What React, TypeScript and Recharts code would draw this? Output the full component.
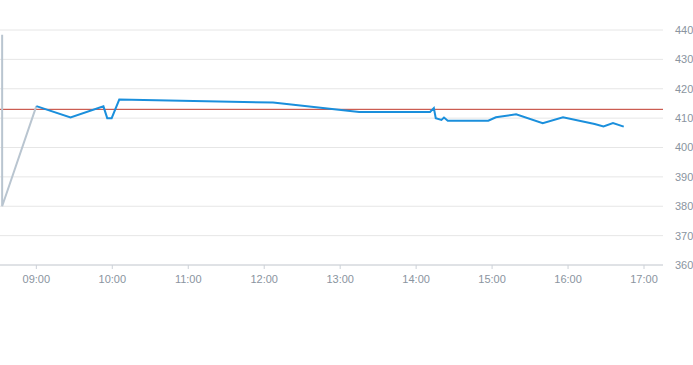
import { LineChart, Line, XAxis, YAxis, CartesianGrid, ReferenceLine } from "recharts";

// minutes since midnight
const preMarketTimes = [513, 513, 540];
const preMarketPrices = [438.4, 380, 414.1];

const sessionTimes = [
  540, 567, 593, 596, 599.5, 605.5, 727, 795, 851, 854, 855.5, 860, 862, 865, 897, 903, 919,
  940, 956, 981, 988, 995.5, 1004,
];
const sessionPrices = [
  414.1, 410.2, 414, 410, 410, 416.3, 415.3, 412.1, 412.1, 413.4, 410, 409.4, 410.2, 409.1,
  409.1, 410.3, 411.3, 408.3, 410.3, 408, 407.2, 408.3, 407.1,
];

const xTicks = [540, 600, 660, 720, 780, 840, 900, 960, 1020];
const yTicks = [360, 370, 380, 390, 400, 410, 420, 430, 440];
const previousClose = 413;

const preMarket = preMarketTimes.map((t, i) => ({ t, price: preMarketPrices[i] }));
const session = sessionTimes.map((t, i) => ({ t, price: sessionPrices[i] }));

const fmtTime = (m: number) => {
  const h = Math.floor(m / 60);
  const mm = Math.round(m % 60);
  return `${String(h).padStart(2, "0")}:${String(mm).padStart(2, "0")}`;
};

const tickStyle = { fill: "#8a94a0", fontSize: 11, fontFamily: "'Liberation Sans', Arial, sans-serif" };

export default function App() {
  return (
    <div style={{ position: "absolute", left: 0, top: 0, background: "#fff" }}>
      <LineChart width={693} height={365} margin={{ top: 30, right: 0, bottom: 70, left: 0 }}>
        <CartesianGrid vertical={false} stroke="#e6e6e6" />
        <XAxis
          dataKey="t"
          type="number"
          domain={[511.3, 1035]}
          ticks={xTicks}
          tickFormatter={fmtTime}
          allowDataOverflow
          height={30}
          stroke="#ccd1d8"
          tickSize={4}
          tickMargin={6}
          tick={tickStyle}
        />
        <YAxis
          orientation="right"
          domain={[360, 440]}
          ticks={yTicks}
          width={30}
          axisLine={false}
          tickLine={false}
          tickSize={6}
          tickMargin={6}
          tick={{ ...tickStyle, textAnchor: "start" }}
        />
        <ReferenceLine y={previousClose} stroke="#c0392b" strokeWidth={1} />
        <Line
          data={preMarket}
          dataKey="price"
          stroke="#b9c5d0"
          strokeWidth={2}
          dot={false}
          isAnimationActive={false}
        />
        <Line
          data={session}
          dataKey="price"
          stroke="#1a8fdc"
          strokeWidth={2}
          dot={false}
          isAnimationActive={false}
        />
      </LineChart>
    </div>
  );
}
